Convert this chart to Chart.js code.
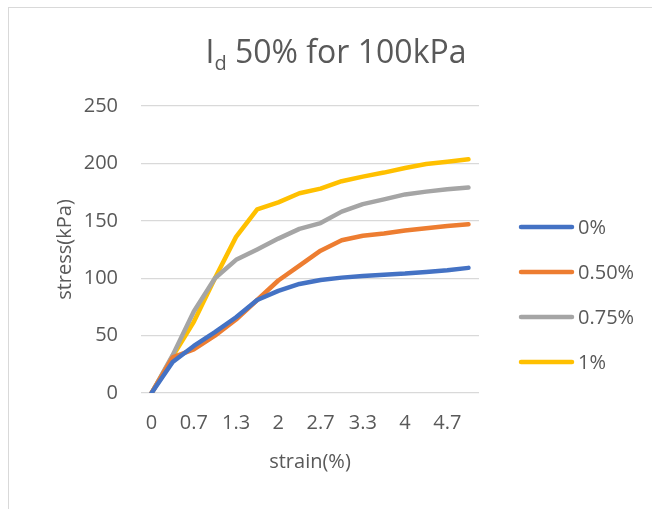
<!DOCTYPE html>
<html>
<head>
<meta charset="utf-8">
<script src="https://cdn.jsdelivr.net/npm/chart.js@4"></script>
<style>
  html, body { margin: 0; padding: 0; background: #fff; overflow: hidden; }
  #wrap { position: relative; width: 652px; height: 509px; }
  #frame { position: absolute; left: 8px; top: 7px; width: 700px; height: 600px; border: 1px solid #d9d9d9; }
  #stressChart { position: absolute; left: 0; top: 0; }
</style>
</head>
<body>
<div id="wrap">
  <div id="frame"></div>
  <canvas id="stressChart" width="652" height="509"></canvas>
</div>
<script>
const strainLabels = ['0', '0.3', '0.7', '1', '1.3', '1.7', '2', '2.3', '2.7', '3', '3.3', '3.7', '4', '4.3', '4.7', '5'];
const seriesNames = ['0%', '0.50%', '0.75%', '1%'];
const stress0 = [0, 27, 41, 53, 66, 81, 89, 95, 98.5, 100.5, 102, 103, 104, 105.5, 107, 109];
const stress050 = [0, 31, 38, 50, 64, 81, 98, 111, 124, 133, 137, 139, 141.5, 143.5, 145.5, 147];
const stress075 = [0, 33, 71, 100, 116, 125, 134.5, 143, 148, 158, 164.5, 168.7, 173, 175.4, 177.4, 179];
const stress1 = [0, 32, 62, 100, 136, 160, 166, 174, 178, 184.5, 188.5, 192, 196, 199.5, 201.5, 203.6];
const yTicks = [0, 50, 100, 150, 200, 250];

const colors = ['#4472C4', '#ED7D31', '#A5A5A5', '#FFC000'];
const textColor = '#595959';
const fontFamily = '"Open Sans", "Liberation Sans", sans-serif';

// title with subscript d
const titlePlugin = {
    id: 'subTitle',
    afterDraw(chart) {
        const ctx = chart.ctx;
        const big = '32px ' + fontFamily;
        const small = '20px ' + fontFamily;
        ctx.save();
        ctx.fillStyle = textColor;
        ctx.textBaseline = 'alphabetic';
        ctx.font = big;
        const wI = ctx.measureText('I').width;
        const rest = ' 50% for 100kPa';
        const wRest = ctx.measureText(rest).width;
        ctx.font = small;
        const wd = ctx.measureText('d').width;
        let x = 336 - (wI + wd + wRest) / 2;
        const y = 63;
        ctx.font = big;
        ctx.fillText('I', x, y);
        x += wI;
        ctx.font = small;
        ctx.fillText('d', x, y + 7);
        x += wd;
        ctx.font = big;
        ctx.fillText(rest, x, y);
        ctx.restore();
    }
};

// legend on the right
const legendPlugin = {
    id: 'sideLegend',
    afterDraw(chart) {
        const ctx = chart.ctx;
        ctx.save();
        ctx.font = '20px ' + fontFamily;
        ctx.textBaseline = 'middle';
        ctx.lineCap = 'round';
        chart.data.datasets.forEach((ds, i) => {
            const y = 227 + i * 45;
            ctx.strokeStyle = ds.borderColor;
            ctx.lineWidth = 4.5;
            ctx.beginPath();
            ctx.moveTo(521, y);
            ctx.lineTo(572, y);
            ctx.stroke();
            ctx.fillStyle = textColor;
            ctx.fillText(ds.label, 578, y + 1);
        });
        ctx.restore();
    }
};

const allSeries = [stress0, stress050, stress075, stress1];

new Chart(document.getElementById('stressChart'), {
    type: 'line',
    data: {
        labels: strainLabels,
        datasets: allSeries.map((vals, i) => ({
            label: seriesNames[i],
            data: vals,
            borderColor: colors[i],
            backgroundColor: colors[i],
            borderWidth: 4.5,
            borderCapStyle: 'round',
            borderJoinStyle: 'round',
            pointRadius: 0,
            tension: 0,
            fill: false
        }))
    },
    options: {
        responsive: false,
        animation: false,
        layout: { padding: { left: 8, right: 173, top: 106, bottom: 35 } },
        plugins: {
            legend: { display: false },
            title: { display: false },
            tooltip: { enabled: false }
        },
        scales: {
            x: {
                offset: true,
                grid: { display: false, drawTicks: false, offset: false },
                border: { display: false },
                ticks: {
                    autoSkip: false,
                    maxRotation: 0,
                    padding: 18,
                    color: textColor,
                    font: { family: fontFamily, size: 20 },
                    callback: function (value, index) {
                        return index % 2 === 0 ? strainLabels[index] : '';
                    }
                },
                title: {
                    display: true,
                    text: 'strain(%)',
                    color: textColor,
                    font: { family: fontFamily, size: 20 },
                    padding: 0
                },
                afterFit: (scale) => { scale.height = 81; }
            },
            y: {
                min: 0,
                max: 250,
                afterBuildTicks: (scale) => { scale.ticks = yTicks.map(v => ({ value: v })); },
                grid: { color: '#d9d9d9', lineWidth: 1.3, drawTicks: false },
                border: { display: false },
                ticks: {
                    padding: 23,
                    color: textColor,
                    font: { family: fontFamily, size: 20 }
                },
                title: {
                    display: true,
                    text: 'stress(kPa)',
                    color: textColor,
                    font: { family: fontFamily, size: 20 },
                    padding: { top: 45 }
                },
                afterFit: (scale) => { scale.width = 133; }
            }
        }
    },
    plugins: [titlePlugin, legendPlugin]
});
</script>
</body>
</html>
